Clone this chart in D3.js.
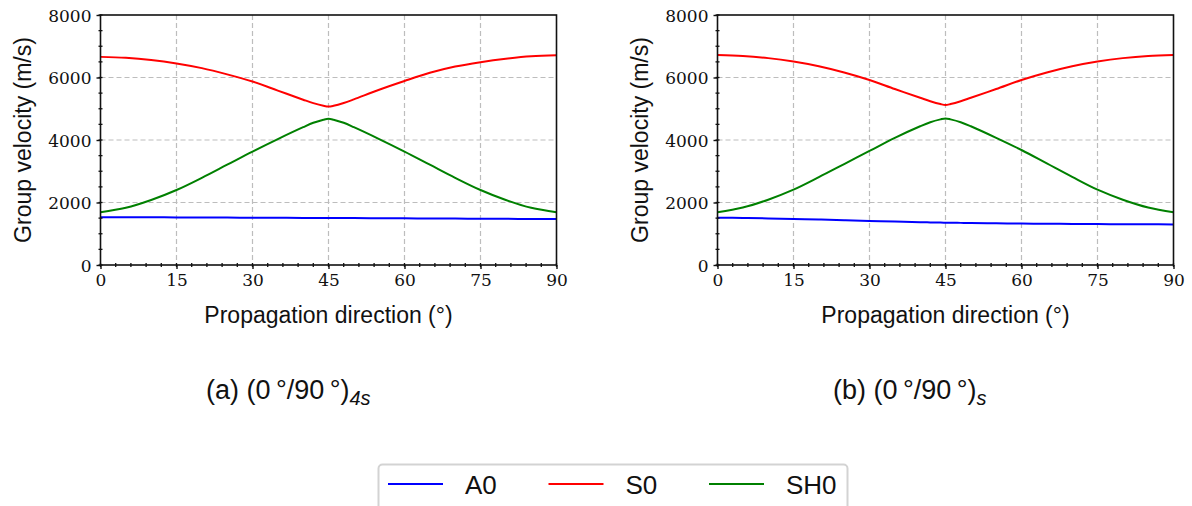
<!DOCTYPE html>
<html>
<head>
<meta charset="utf-8">
<script src="https://cdn.jsdelivr.net/npm/d3@7/dist/d3.min.js"></script>
<style>
  html, body { margin: 0; padding: 0; background: #fff; }
  svg { display: block; }
</style>
</head>
<body>
<svg id="fig" width="1192" height="506"></svg>
<script>
// Propagation directions (degrees) at which the group velocities were sampled
const angles = [0, 5, 10, 15, 20, 25, 30, 35, 40, 42, 44, 45, 46, 48, 50, 55, 60, 65, 70, 75, 80, 85, 90];

// (a) (0/90)4s laminate — group velocities in m/s
const a_A0  = [1530, 1527, 1525, 1523, 1520, 1517, 1514, 1511, 1508, 1507, 1506, 1505, 1504, 1503, 1501, 1497, 1493, 1489, 1485, 1481, 1477, 1473, 1470];
const a_S0  = [6660, 6630, 6560, 6450, 6300, 6100, 5870, 5580, 5290, 5180, 5095, 5070, 5095, 5185, 5300, 5610, 5890, 6150, 6350, 6490, 6600, 6680, 6710];
const a_SH0 = [1690, 1830, 2080, 2400, 2790, 3210, 3630, 4030, 4410, 4550, 4650, 4680, 4650, 4550, 4410, 4030, 3630, 3210, 2790, 2400, 2080, 1830, 1690];

// (b) (0/90)s laminate — group velocities in m/s
const b_A0  = [1515, 1505, 1490, 1475, 1455, 1432, 1410, 1390, 1370, 1363, 1357, 1355, 1353, 1348, 1343, 1333, 1325, 1319, 1314, 1310, 1306, 1303, 1300];
const b_S0  = [6720, 6690, 6620, 6510, 6360, 6160, 5920, 5630, 5350, 5240, 5150, 5120, 5150, 5240, 5350, 5630, 5920, 6160, 6360, 6510, 6620, 6690, 6720];
const b_SH0 = [1690, 1840, 2090, 2410, 2810, 3230, 3650, 4070, 4440, 4570, 4660, 4690, 4660, 4570, 4440, 4070, 3680, 3250, 2820, 2410, 2090, 1840, 1690];

// Axis ticks
const xTicks = [0, 15, 30, 45, 60, 75, 90];
const yTicks = [0, 2000, 4000, 6000, 8000];
const xMinor = d3.range(0, 91, 3);
const yMinor = d3.range(0, 8001, 500);

const modes  = ["A0", "S0", "SH0"];
const colors = { A0: "#0000ff", S0: "#ff0000", SH0: "#008000" };

const panels = [
  { left: 100.5, label: "(a) (0\u2009°/90\u2009°)", sub: "4s", capX: 206, series: { A0: a_A0, S0: a_S0, SH0: a_SH0 } },
  { left: 717.5, label: "(b) (0\u2009°/90\u2009°)", sub: "s",  capX: 833, series: { A0: b_A0, S0: b_S0, SH0: b_SH0 } }
];

const svg = d3.select("#fig");
const plotW = 456, plotTop = 15, plotBottom = 265;
const sansFont = "'Liberation Sans', Arial, Helvetica, sans-serif";
const serifFont = "'DejaVu Serif', serif";

panels.forEach(p => {
  const x = d3.scaleLinear().domain([0, 90]).range([p.left, p.left + plotW]);
  const y = d3.scaleLinear().domain([0, 8000]).range([plotBottom, plotTop]);
  const g = svg.append("g");

  // dashed grid
  g.selectAll(".gx").data(xTicks.slice(1, -1)).enter().append("line")
    .attr("x1", d => x(d)).attr("x2", d => x(d))
    .attr("y1", plotTop).attr("y2", plotBottom)
    .attr("stroke", "#bdbdbd").attr("stroke-width", 1.2).attr("stroke-dasharray", "5,3");
  g.selectAll(".gy").data(yTicks.slice(1, -1)).enter().append("line")
    .attr("x1", p.left).attr("x2", p.left + plotW)
    .attr("y1", d => y(d)).attr("y2", d => y(d))
    .attr("stroke", "#bdbdbd").attr("stroke-width", 1.2).attr("stroke-dasharray", "5,3");

  // curves
  const line = d3.line()
    .x((d, i) => x(angles[i]))
    .y(d => y(d))
    .curve(d3.curveCatmullRom.alpha(0.5));
  modes.forEach(m => {
    g.append("path")
      .attr("d", line(p.series[m]))
      .attr("fill", "none")
      .attr("stroke", colors[m])
      .attr("stroke-width", 2);
  });

  // frame
  g.append("rect")
    .attr("x", p.left).attr("y", plotTop)
    .attr("width", plotW).attr("height", plotBottom - plotTop)
    .attr("fill", "none").attr("stroke", "#111").attr("stroke-width", 1.6);

  // minor ticks (straddling the spines)
  g.selectAll(".mx").data(xMinor).enter().append("line")
    .attr("x1", d => x(d)).attr("x2", d => x(d))
    .attr("y1", plotBottom - 2).attr("y2", plotBottom + 2)
    .attr("stroke", "#111").attr("stroke-width", 1.3);
  g.selectAll(".my").data(yMinor).enter().append("line")
    .attr("y1", d => y(d)).attr("y2", d => y(d))
    .attr("x1", p.left - 2).attr("x2", p.left + 2)
    .attr("stroke", "#111").attr("stroke-width", 1.3);

  // major axes
  const xAxis = d3.axisBottom(x).tickValues(xTicks).tickSize(4).tickPadding(5).tickFormat(d3.format("d"));
  const yAxis = d3.axisLeft(y).tickValues(yTicks).tickSize(4).tickPadding(5).tickFormat(d3.format("d"));

  const gx = g.append("g").attr("transform", `translate(0,${plotBottom})`).call(xAxis);
  const gy = g.append("g").attr("transform", `translate(${p.left},0)`).call(yAxis);
  [gx, gy].forEach(ax => {
    ax.select(".domain").remove();
    ax.selectAll(".tick line").attr("stroke", "#111").attr("stroke-width", 1.4);
    ax.selectAll(".tick text")
      .attr("fill", "#111")
      .style("font-family", serifFont)
      .style("font-size", "17px");
  });
  gy.selectAll(".tick text").attr("dy", "0.36em");

  // axis titles
  g.append("text")
    .attr("x", p.left + plotW / 2).attr("y", 323)
    .attr("text-anchor", "middle")
    .style("font-family", sansFont).style("font-size", "23px")
    .attr("fill", "#111")
    .text("Propagation direction (°)");
  g.append("text")
    .attr("transform", `translate(${p.left - 70},${(plotTop + plotBottom) / 2}) rotate(-90)`)
    .attr("text-anchor", "middle")
    .style("font-family", sansFont).style("font-size", "23px")
    .attr("fill", "#111")
    .text("Group velocity (m/s)");

  // sub-figure caption
  const cap = svg.append("text")
    .attr("x", p.capX).attr("y", 399)
    .style("font-family", sansFont).style("font-size", "27px")
    .attr("fill", "#111");
  cap.append("tspan").text(p.label);
  cap.append("tspan")
    .attr("dy", 6).style("font-size", "20px").style("font-style", "italic")
    .text(p.sub);
});

// legend
const lg = svg.append("g");
lg.append("rect")
  .attr("x", 378.5).attr("y", 464.5)
  .attr("width", 469).attr("height", 60).attr("rx", 4)
  .attr("fill", "#fff").attr("stroke", "#d3d3d3").attr("stroke-width", 2);
const legX = d3.scalePoint().domain(modes).range([388, 709]);
modes.forEach(m => {
  const x0 = legX(m);
  lg.append("line")
    .attr("x1", x0).attr("x2", x0 + 55)
    .attr("y1", 484).attr("y2", 484)
    .attr("stroke", colors[m]).attr("stroke-width", 2.2);
  lg.append("text")
    .attr("x", x0 + 77).attr("y", 494)
    .style("font-family", sansFont).style("font-size", "26px")
    .attr("fill", "#111")
    .text(m);
});
</script>
</body>
</html>
